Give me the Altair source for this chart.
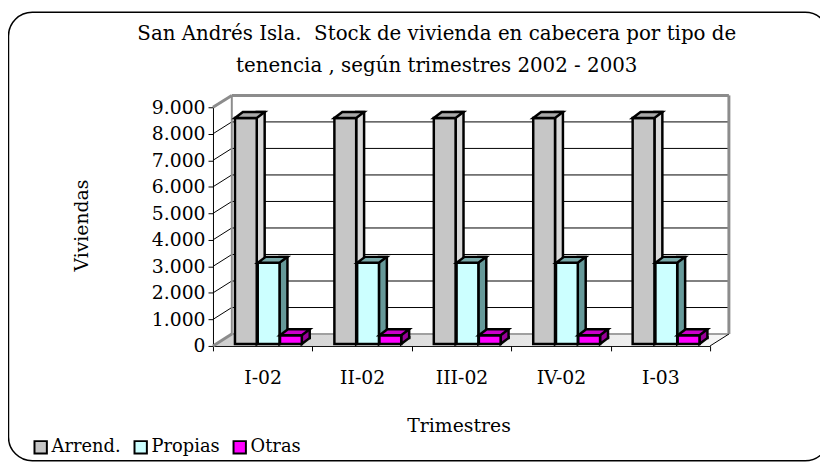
import altair as alt
import pandas as pd

# ---- data ----
quarters = ["I-02", "II-02", "III-02", "IV-02", "I-03"]
arrend = [8520, 8520, 8520, 8520, 8520]
propias = [3060, 3060, 3060, 3060, 3060]
otras = [330, 330, 330, 330, 330]
series_names = ["Arrend.", "Propias", "Otras"]
y_ticks = [0, 1000, 2000, 3000, 4000, 5000, 6000, 7000, 8000, 9000]
title_lines = ["San Andrés Isla.\u00a0 Stock de vivienda en cabecera por tipo de",
               "tenencia , según trimestres 2002 - 2003"]
x_title = "Trimestres"
y_title = "Viviendas"

# ---- styles ----
front_colors = ["#c6c6c6", "#ccffff", "#ff00ff"]
side_colors = ["#d9d9d9", "#669999", "#990099"]
top_colors = ["#a8a8a8", "#78a8a8", "#cc00cc"]
FONT = "DejaVu Serif"
FS = 19
W, H = 502, 241
DX, DY = 19, -12          # wall depth
BW = 22                   # bar width
BX, BY = 8, -6            # bar depth
LIFT = -2
offsets = [-17, 6, 28.5]
GRAY = "#8c8c8c"

values = {"Arrend.": arrend, "Propias": propias, "Otras": otras}
rows = []
for s in series_names:
    for q, v in zip(quarters, values[s]):
        rows.append({"q": q, "s": s, "v": v, "z": 0})
df = pd.DataFrame(rows)

xscale = alt.Scale(domain=quarters, paddingInner=0, paddingOuter=0)
yscale = alt.Scale(domain=[0, 9000], nice=False, zero=True)

axis_style = dict(labelFont=FONT, titleFont=FONT, labelFontSize=FS, titleFontSize=FS,
                  labelColor="black", titleColor="black", titleFontWeight="normal",
                  domainColor="black", tickColor="black", domainWidth=1, tickWidth=1,
                  grid=False)
xaxis = alt.Axis(title=x_title, labelAngle=0, tickBand="extent", tickSize=5,
                 labelPadding=18, titleX=248, titleY=80, titleBaseline="middle",
                 **axis_style)
yaxis = alt.Axis(title=y_title, values=y_ticks,
                 labelExpr="replace(format(datum.value, ',d'), ',', '.')",
                 tickSize=5, labelPadding=3, titleX=-133, titleY=119,
                 titleAngle=270, titleBaseline="middle", titleAlign="center",
                 **axis_style)


def X():
    return alt.X("q:N", scale=xscale, axis=xaxis, sort=quarters)


def Y(f):
    return alt.Y(f + ":Q", scale=yscale, axis=yaxis)


one = pd.DataFrame({"v": [9000], "z": [0]})
gridv = pd.DataFrame({"v": y_ticks[1:-1]})

layers = []

# outer rounded frame
layers.append(alt.Chart(one).mark_rect(cornerRadius=24, filled=False, stroke="black",
                                       strokeWidth=1.5).encode(
    x=alt.value(-206.5), x2=alt.value(622), y=alt.value(-96), y2=alt.value(357)))

# title lines
for i, t in enumerate(title_lines):
    layers.append(alt.Chart(pd.DataFrame({"t": [t]})).mark_text(
        font=FONT, fontSize=20, align="center", baseline="middle", color="black").encode(
        text="t:N", x=alt.value(226), y=alt.value(-74 + 32 * i)))

# floor
floor_grad = alt.Gradient(gradient="linear", x1=0, x2=1, y1=0, y2=0,
                          stops=[alt.GradientStop(color="#cfcfcf", offset=0),
                                 alt.GradientStop(color="#f6f6f6", offset=1)])
layers.append(alt.Chart(one).mark_point(
    shape=f"M0,0 L{W},0 L{W+DX},{DY} L{DX},{DY} Z", size=4, filled=True,
    fill=floor_grad, strokeWidth=0, opacity=1).encode(x=alt.value(0), y=Y("z")))

# back-wall grid lines
layers.append(alt.Chart(gridv).mark_rule(color="black", strokeWidth=1, yOffset=DY).encode(
    y=Y("v"), x=alt.value(DX), x2=alt.value(W + DX)))
# side-wall diagonals
layers.append(alt.Chart(gridv).mark_rule(color="black", strokeWidth=1, y2Offset=DY).encode(
    y=Y("v"), y2="v:Q", x=alt.value(0), x2=alt.value(DX)))

# wall edges
layers.append(alt.Chart(one).mark_rule(color=GRAY, strokeWidth=3, yOffset=DY).encode(
    y=Y("v"), x=alt.value(DX), x2=alt.value(W + DX)))
layers.append(alt.Chart(one).mark_rule(color=GRAY, strokeWidth=3, yOffset=DY, y2Offset=DY).encode(
    y=Y("v"), y2="z:Q", x=alt.value(W + DX)))
layers.append(alt.Chart(one).mark_rule(color=GRAY, strokeWidth=2, yOffset=DY, y2Offset=DY).encode(
    y=Y("v"), y2="z:Q", x=alt.value(DX)))
layers.append(alt.Chart(one).mark_rule(color=GRAY, strokeWidth=3, y2Offset=DY).encode(
    y=Y("v"), y2="v:Q", x=alt.value(0), x2=alt.value(DX)))
layers.append(alt.Chart(one).mark_rule(color=GRAY, strokeWidth=3, y2Offset=DY).encode(
    y=Y("z"), y2="z:Q", x=alt.value(0), x2=alt.value(DX)))
layers.append(alt.Chart(one).mark_rule(color="#a0a0a0", strokeWidth=2, yOffset=DY).encode(
    y=Y("z"), x=alt.value(DX), x2=alt.value(W + DX)))
layers.append(alt.Chart(one).mark_rule(color="black", strokeWidth=1, y2Offset=DY).encode(
    y=Y("z"), y2="z:Q", x=alt.value(W), x2=alt.value(W + DX)))

legend = alt.Legend(orient="none", legendX=-183, legendY=334, direction="horizontal",
                    title=None, symbolType="square", symbolSize=156,
                    symbolStrokeColor="black", symbolStrokeWidth=2, symbolOpacity=1,
                    labelFont=FONT, labelFontSize=18, labelColor="black",
                    labelOffset=2, columnPadding=9)
cscale = alt.Scale(domain=series_names, range=front_colors)

hw = BW / 2
for k, s in enumerate(series_names):
    base = alt.Chart(df[df["s"] == s])
    off = offsets[k]
    side = base.mark_bar(width=BX, xOffset=off + hw + BX / 2, yOffset=LIFT + BY,
                         y2Offset=LIFT + BY, fill=side_colors[k], stroke="black",
                         strokeWidth=2.5).encode(x=X(), y=Y("v"), y2="z:Q")
    patch = base.mark_point(shape=f"M{hw},-8 L{hw},0 L{hw+BX},{BY} L{hw+BX},-8", size=4,
                            filled=True, fill=side_colors[k], stroke="black",
                            strokeWidth=2.5, opacity=1, xOffset=off, yOffset=LIFT).encode(
        x=X(), y=Y("z"))
    front = base.mark_bar(width=BW, xOffset=off, yOffset=LIFT, y2Offset=LIFT,
                          stroke="black", strokeWidth=2.5, opacity=1).encode(
        x=X(), y=Y("v"), y2="z:Q",
        color=alt.Color("s:N", scale=cscale, legend=legend))
    top = base.mark_point(shape=f"M{-hw},0 L{hw},0 L{hw+BX},{BY} L{-hw+BX},{BY} Z", size=4,
                          filled=True, fill=top_colors[k], stroke="black", strokeWidth=2.5,
                          opacity=1, xOffset=off, yOffset=LIFT).encode(x=X(), y=Y("v"))
    layers += [side, patch, front, top]

chart = alt.layer(*layers).properties(
    width=W, height=H,
    padding={"left": 207, "top": 98, "right": 111, "bottom": 119},
    autosize=alt.AutoSizeParams(type="none"),
    background="white",
).configure_view(stroke=None)

chart.save("out.html", embed_options={"renderer": "svg", "actions": False})
